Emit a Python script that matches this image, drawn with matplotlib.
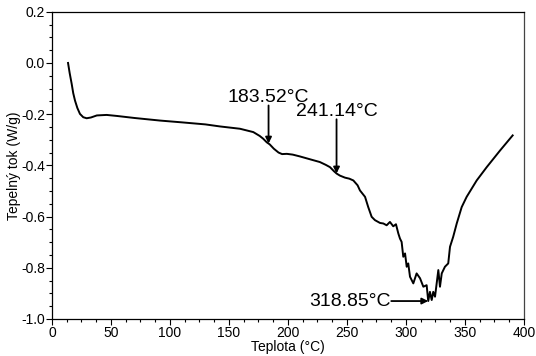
import numpy as np
import matplotlib.pyplot as plt
from matplotlib.ticker import MultipleLocator

plt.rcParams['font.family'] = ['Liberation Sans', 'DejaVu Sans']

# DSC krivka - teplota (°C) a tepelny tok (W/g)
teplota = [13.6, 15.0, 16.7, 18.0, 19.5, 21.5, 23.7, 26.5, 29.4, 33.0, 38.0, 46.3,
           55.0, 70.0, 91.5, 110.0, 130.0, 142.4, 159.3, 170.6, 176.0, 179.0, 182.0,
           184.5, 188.0, 192.0, 195.0, 199.0, 204.0, 210.0, 220.0, 227.0, 232.0,
           235.6, 239.0, 241.2, 244.0, 248.3, 252.0, 255.4, 259.0, 261.0, 265.3,
           268.0, 270.9, 273.7, 278.0, 280.8, 283.6, 286.4, 289.2, 291.5, 293.5,
           294.9, 296.3, 297.7, 299.2, 300.6, 301.9, 303.4, 306.2, 309.0, 311.9,
           314.7, 317.5, 318.85, 320.3, 321.8, 323.1, 324.6, 327.4, 328.8, 330.3,
           333.0, 335.8, 337.3, 340.0, 343.0, 347.2, 351.4, 359.9, 368.4, 379.7, 390.4]
tok = [0.0, -0.04, -0.082, -0.118, -0.147, -0.176, -0.199, -0.212, -0.216, -0.213,
       -0.205, -0.203, -0.207, -0.215, -0.225, -0.232, -0.240, -0.248, -0.257, -0.270,
       -0.285, -0.296, -0.310, -0.318, -0.335, -0.350, -0.356, -0.355, -0.358, -0.365,
       -0.378, -0.387, -0.398, -0.407, -0.423, -0.432, -0.440, -0.448, -0.452, -0.459,
       -0.478, -0.498, -0.523, -0.563, -0.601, -0.614, -0.625, -0.627, -0.634, -0.621,
       -0.638, -0.630, -0.666, -0.686, -0.699, -0.757, -0.744, -0.796, -0.783, -0.835,
       -0.861, -0.822, -0.841, -0.874, -0.868, -0.930, -0.894, -0.926, -0.894, -0.913,
       -0.809, -0.874, -0.822, -0.796, -0.783, -0.718, -0.679, -0.627, -0.563, -0.523,
       -0.459, -0.407, -0.342, -0.283]

# teploty prechodu oznacene sipkami
prechody = [183.52, 241.14]
pik = 318.85

fig = plt.figure(figsize=(5.36, 3.56), dpi=100)
ax = fig.add_axes([0.097, 0.104, 0.8806, 0.863])

ax.plot(teplota, tok, color='black', lw=1.4)

for t, y_txt in zip(prechody, [-0.153, -0.207]):
    y_kriv = np.interp(t, teplota, tok)
    ax.annotate('', xy=(t, y_kriv), xytext=(t, y_txt - 0.013),
                arrowprops=dict(arrowstyle='-|>', color='black', lw=1.3,
                                mutation_scale=9, shrinkA=0, shrinkB=0))
    ax.text(t, y_txt, '{:.2f}°C'.format(t), fontsize=14, ha='center', va='baseline')

y_pik = np.interp(pik, teplota, tok)
ax.annotate('', xy=(pik, y_pik), xytext=(287.5, y_pik),
            arrowprops=dict(arrowstyle='-|>', color='black', lw=1.3,
                            mutation_scale=9, shrinkA=0, shrinkB=0))
ax.text(287.0, y_pik, '{:.2f}°C'.format(pik), fontsize=14, ha='right', va='center')

ax.set_xlim(0, 400)
ax.set_ylim(-1.0, 0.2)
ax.xaxis.set_major_locator(MultipleLocator(50))
ax.xaxis.set_minor_locator(MultipleLocator(12.5))
ax.yaxis.set_major_locator(MultipleLocator(0.2))
ax.yaxis.set_minor_locator(MultipleLocator(0.05))
ax.yaxis.set_major_formatter(plt.FormatStrFormatter('%.1f'))
ax.tick_params(which='major', length=4, width=0.8, labelsize=10, pad=1)
ax.tick_params(which='minor', length=2, width=0.8)

for s in ax.spines.values():
    s.set_linewidth(0.9)
ax.spines['right'].set_color('#444444')

ax.set_xlabel('Teplota (°C)', fontsize=10, labelpad=0)
ax.set_ylabel('Tepelný tok (W/g)', fontsize=10, labelpad=0)

fig.savefig('out.png', dpi=100)
